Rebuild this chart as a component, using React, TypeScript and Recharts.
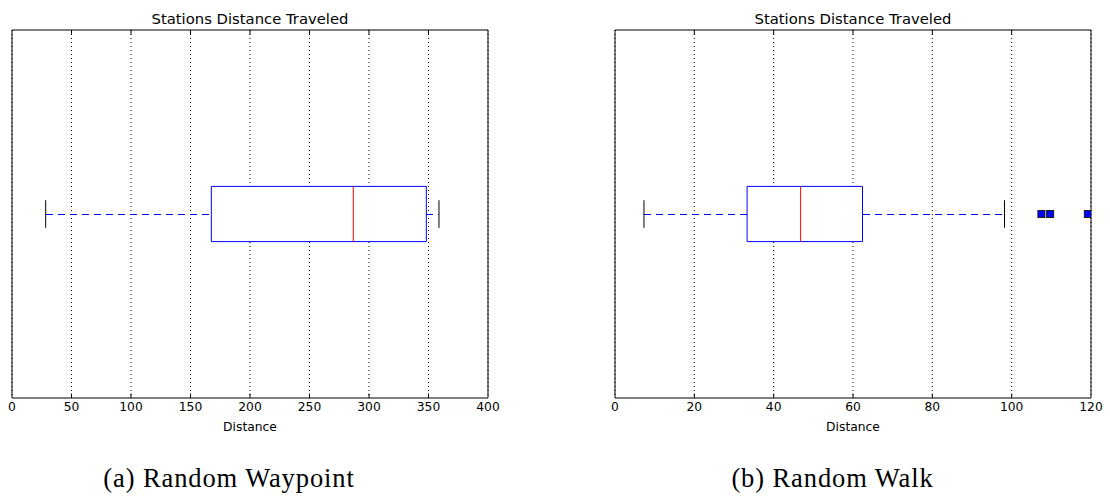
import React from 'react';
import {
  ComposedChart,
  XAxis,
  YAxis,
  CartesianGrid,
  ReferenceArea,
  ReferenceLine,
  Scatter,
  Label,
} from 'recharts';

// ---- data ----
const captions = ['(a) Random Waypoint', '(b) Random Walk'];
const chartTitles = ['Stations Distance Traveled', 'Stations Distance Traveled'];
const whiskerLow = [28.3, 7.3];
const quartile1 = [167.5, 33.3];
const medians = [286.8, 46.8];
const quartile3 = [348.2, 62.4];
const whiskerHigh = [358.8, 98.2];
const outliers: number[][] = [[], [107.5, 109.7, 119.2]];
const xTicksWaypoint = [0, 50, 100, 150, 200, 250, 300, 350, 400];
const xTicksWalk = [0, 20, 40, 60, 80, 100, 120];
const xDomains: [number, number][] = [[0, 400], [0, 120]];
const xTicks = [xTicksWaypoint, xTicksWalk];

const BOX_HALF = 0.075;
const CAP_HALF = 0.0375;
const TICK_LEN = 0.012;
const SANS = 'DejaVu Sans';

const Square = (props: any) => {
  const { cx, cy } = props;
  if (cx == null || cy == null) return null;
  return (
    <rect x={cx - 3.5} y={cy - 3.5} width={7} height={7} fill="#0000ff" stroke="#1a1a1a" strokeWidth={1} />
  );
};

function BoxChart({ idx }: { idx: number }) {
  const lo = whiskerLow[idx];
  const q1 = quartile1[idx];
  const med = medians[idx];
  const q3 = quartile3[idx];
  const hi = whiskerHigh[idx];
  const [d0, d1] = xDomains[idx];
  const pts = outliers[idx].map((v) => ({ x: v, y: 1 }));
  const inner = xTicks[idx].filter((t) => t > d0 && t < d1);
  return (
    <ComposedChart width={500} height={440} margin={{ top: 30, right: 12, bottom: 0, left: 12 }}>
      <CartesianGrid horizontal={false} stroke="#000" strokeDasharray="1 3" />
      <XAxis
        type="number"
        dataKey="x"
        domain={[d0, d1]}
        ticks={xTicks[idx]}
        allowDataOverflow
        axisLine={false}
        tickLine={false}
        tickSize={0}
        tickMargin={4.3}
        height={42}
        tick={{ fontFamily: SANS, fontSize: 12.3, fill: '#000' }}
      >
        <Label value="Distance" position="insideBottom" offset={9} style={{ fontFamily: SANS, fontSize: 12.3, fill: '#000' }} />
      </XAxis>
      <YAxis type="number" dataKey="y" domain={[0.5, 1.5]} hide allowDataOverflow />
      {/* inward tick marks */}
      {inner.map((t) => (
        <ReferenceLine key={'b' + t} segment={[{ x: t, y: 0.5 }, { x: t, y: 0.5 + TICK_LEN }]} stroke="#000" strokeWidth={1} />
      ))}
      {inner.map((t) => (
        <ReferenceLine key={'t' + t} segment={[{ x: t, y: 1.5 - TICK_LEN }, { x: t, y: 1.5 }]} stroke="#000" strokeWidth={1} />
      ))}
      {/* frame */}
      <ReferenceArea x1={d0} x2={d1} y1={0.5} y2={1.5} fill="none" fillOpacity={0} stroke="#000" strokeWidth={1} />
      {/* whiskers */}
      <ReferenceLine segment={[{ x: lo, y: 1 }, { x: q1, y: 1 }]} stroke="#0000ff" strokeDasharray="7 5" strokeWidth={1} shapeRendering="crispEdges" />
      <ReferenceLine segment={[{ x: q3, y: 1 }, { x: hi, y: 1 }]} stroke="#0000ff" strokeDasharray="7 5" strokeWidth={1} shapeRendering="crispEdges" />
      {/* caps */}
      <ReferenceLine segment={[{ x: lo, y: 1 - CAP_HALF }, { x: lo, y: 1 + CAP_HALF }]} stroke="#000" strokeWidth={1} />
      <ReferenceLine segment={[{ x: hi, y: 1 - CAP_HALF }, { x: hi, y: 1 + CAP_HALF }]} stroke="#000" strokeWidth={1} />
      {/* box */}
      <ReferenceArea x1={q1} x2={q3} y1={1 - BOX_HALF} y2={1 + BOX_HALF} fill="#fff" fillOpacity={1} stroke="#0000ff" strokeWidth={1} />
      {/* median */}
      <ReferenceLine segment={[{ x: med, y: 1 - BOX_HALF }, { x: med, y: 1 + BOX_HALF }]} stroke="#ff0000" strokeWidth={1} />
      <Scatter data={pts} dataKey="y" shape={<Square />} isAnimationActive={false} />
    </ComposedChart>
  );
}

export default function App() {
  return (
    <div style={{ position: 'absolute', left: 0, top: 0, width: 1110, height: 497, background: '#fff' }}>
      <div style={{ position: 'absolute', left: 0, top: 0 }}>
        <BoxChart idx={0} />
      </div>
      <div style={{ position: 'absolute', left: 603, top: 0 }}>
        <BoxChart idx={1} />
      </div>
      <svg width={1110} height={497} style={{ position: 'absolute', left: 0, top: 0, pointerEvents: 'none' }}>
        <text x={250} y={24} textAnchor="middle" fontFamily={SANS} fontSize={14.8} fill="#000">
          {chartTitles[0]}
        </text>
        <text x={853} y={24} textAnchor="middle" fontFamily={SANS} fontSize={14.8} fill="#000">
          {chartTitles[1]}
        </text>
        <text x={229} y={487} textAnchor="middle" fontFamily="Liberation Serif" fontSize={26.5} letterSpacing={0.9} fill="#000">
          {captions[0]}
        </text>
        <text x={832.5} y={487} textAnchor="middle" fontFamily="Liberation Serif" fontSize={26.5} letterSpacing={0.9} fill="#000">
          {captions[1]}
        </text>
      </svg>
    </div>
  );
}
